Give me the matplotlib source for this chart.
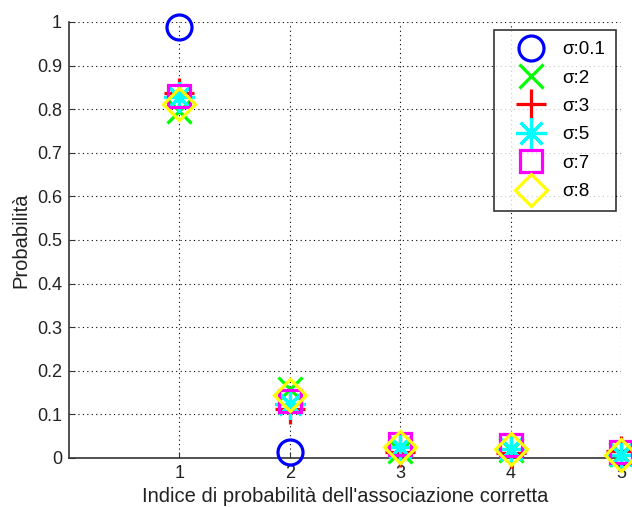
import numpy as np
import matplotlib
matplotlib.use("Agg")
import matplotlib.pyplot as plt

plt.rcParams['font.family'] = ['Liberation Sans', 'DejaVu Sans']

# Index of the correct association
indices = [1, 2, 3, 4, 5]

# Probability for each sigma value (nan = not available)
sigma_labels = ['σ:0.1', 'σ:2', 'σ:3', 'σ:5', 'σ:7', 'σ:8']
p_sigma_01 = [0.988, 0.013, np.nan, np.nan, np.nan]
p_sigma_2 = [0.797, 0.158, 0.015, 0.018, 0.010]
p_sigma_3 = [0.837, 0.112, 0.013, 0.012, 0.016]
p_sigma_5 = [0.828, 0.124, 0.025, 0.020, 0.007]
p_sigma_7 = [0.830, 0.131, 0.032, 0.030, 0.013]
p_sigma_8 = [0.812, 0.145, 0.025, 0.020, 0.007]

series = [p_sigma_01, p_sigma_2, p_sigma_3, p_sigma_5, p_sigma_7, p_sigma_8]
markers = ['o', 'x', '+', (8, 2, 0), 's', 'D']
colors = ['#0000ff', '#00ff00', '#ff0000', '#00ffff', '#ff00ff', '#ffff00']
sizes = [18, 17, 22, 22, 16, 16]

fig = plt.figure(figsize=(6.32, 5.07), dpi=100)
W, H = 632, 507
ax = fig.add_axes([69 / W, 1 - 458 / H, (621 - 69) / W, (458 - 22) / H])

for vals, lab, m, c, s in zip(series, sigma_labels, markers, colors, sizes):
    ax.plot(indices, vals, linestyle='none', marker=m, markersize=s,
            markerfacecolor='none', markeredgecolor=c, markeredgewidth=2.3,
            label=lab, clip_on=False, zorder=3)

ax.set_xlim(0, 5)
ax.set_ylim(0, 1)
ax.set_xticks(indices)
ax.set_yticks(np.arange(0, 1.01, 0.1))
ax.set_yticklabels(['0', '0.1', '0.2', '0.3', '0.4', '0.5', '0.6', '0.7', '0.8', '0.9', '1'])

ax.grid(True, linestyle=(0, (1, 3)), color='black', linewidth=0.8)
ax.set_axisbelow(True)
for side in ['top', 'right']:
    ax.spines[side].set_visible(False)
for side in ['left', 'bottom']:
    ax.spines[side].set_linewidth(1.2)
    ax.spines[side].set_color('#333333')
ax.tick_params(direction='in', length=4, labelsize=13, colors='#333333',
               labelcolor='#222222', pad=5)

ax.set_xlabel("Indice di probabilità dell'associazione corretta", fontsize=14.5,
              color='#222222', labelpad=4)
ax.set_ylabel('Probabilità', fontsize=14.5, color='#222222', labelpad=5)

leg = ax.legend(loc='upper right', bbox_to_anchor=(616 / W, 1 - 30 / H),
                bbox_transform=fig.transFigure, fontsize=13.5, frameon=True,
                fancybox=False, borderpad=0.59, labelspacing=0.6,
                handletextpad=0.27, handlelength=2.77, borderaxespad=0)
leg.get_frame().set_edgecolor('black')
leg.get_frame().set_linewidth(1.2)

fig.savefig('out.png', dpi=100)
